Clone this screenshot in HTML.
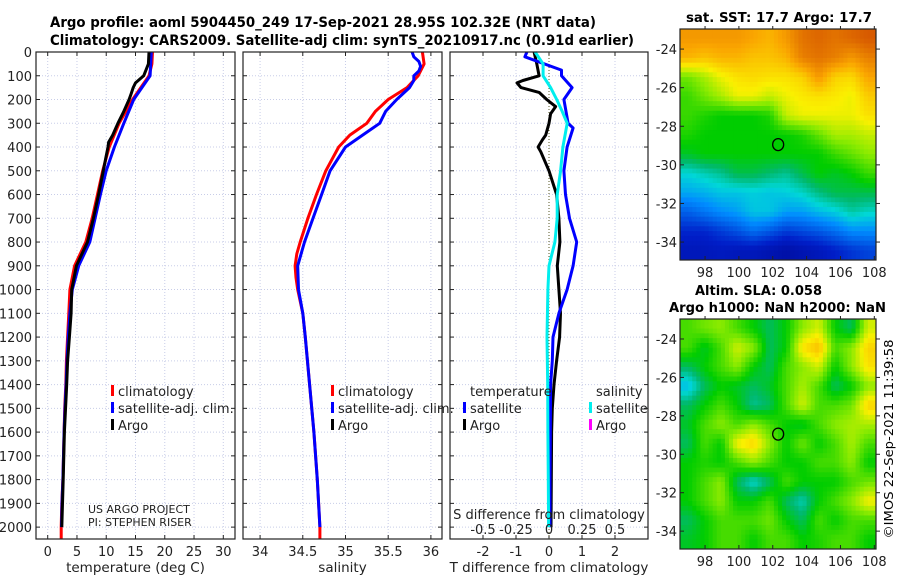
<!DOCTYPE html>
<html><head><meta charset="utf-8">
<style>
html,body{margin:0;padding:0;background:#fff;}
svg{display:block;font-family:"DejaVu Sans","Liberation Sans",sans-serif;}
</style></head>
<body>
<svg id="chart" width="900" height="580" viewBox="0 0 900 580" xmlns="http://www.w3.org/2000/svg">
<text x="50" y="27" font-size="14" font-weight="bold" textLength="546" lengthAdjust="spacingAndGlyphs">Argo profile: aoml 5904450_249 17-Sep-2021 28.95S 102.32E (NRT data)</text>
<text x="50" y="45" font-size="14" font-weight="bold" textLength="584" lengthAdjust="spacingAndGlyphs">Climatology: CARS2009. Satellite-adj clim: synTS_20210917.nc (0.91d earlier)</text>
<text x="686" y="22" font-size="13" font-weight="bold" textLength="186" lengthAdjust="spacingAndGlyphs">sat. SST: 17.7 Argo: 17.7</text>
<text x="695" y="295" font-size="13" font-weight="bold" textLength="127" lengthAdjust="spacingAndGlyphs">Altim. SLA: 0.058</text>
<text x="669" y="312" font-size="13" font-weight="bold" textLength="217" lengthAdjust="spacingAndGlyphs">Argo h1000: NaN h2000: NaN</text>
<text transform="translate(893,439) rotate(-90)" text-anchor="middle" font-size="12.5" textLength="199" lengthAdjust="spacingAndGlyphs">©IMOS 22-Sep-2021 11:39:58</text>
</svg>
<script>
// ---- data ----
const depthTicks=[0,100,200,300,400,500,600,700,800,900,1000,1100,1200,1300,1400,1500,1600,1700,1800,1900,2000];
const tempTicks=[0,5,10,15,20,25,30];
const salTicks=[34,34.5,35,35.5,36];
const salTickLabels=['34','34.5','35','35.5','36'];
const tdiffTicks=[-2,-1,0,1,2];
const sdiffTicks=[-0.5,-0.25,0,0.25,0.5];
const sdiffTickLabels=['-0.5','-0.25','0','0.25','0.5'];

const climTDepth=[0,50,100,150,200,300,400,500,600,700,800,900,1000,1100,1200,1300,1400,1500,1600,1700,1800,1900,2000,2050];
const climTemp=[17.9,17.8,17.3,15.9,14.5,12.2,10.5,9.4,8.5,7.6,6.5,4.6,3.8,3.6,3.4,3.2,3.1,2.9,2.8,2.7,2.6,2.4,2.3,2.3];
const satTDepth=[0,50,100,150,200,300,400,500,600,700,800,900,1000,1100,1200,1300,1400,1500,1600,1700,1800,1900,2000];
const satTemp=[17.7,17.6,17.5,16.1,14.7,13.0,11.4,10.0,9.0,8.1,7.2,5.3,4.2,3.8,3.5,3.3,3.15,2.95,2.8,2.7,2.6,2.45,2.35];
const argoTDepth=[0,50,100,130,150,180,200,250,300,350,380,400,450,500,600,700,800,900,1000,1100,1200,1300,1400,1600,1800,2000];
const argoTemp=[17.3,17.2,16.4,15.0,14.6,14.2,13.9,13.0,12.0,11.1,10.4,10.3,9.9,9.5,8.7,7.8,6.8,4.9,4.1,4.0,3.7,3.4,3.25,2.85,2.65,2.4];

const climSDepth=[0,50,100,150,200,250,300,350,400,500,600,700,800,850,900,950,1000,1100,1200,1400,1600,1800,2000,2050];
const climSal=[35.9,35.92,35.85,35.72,35.5,35.35,35.25,35.05,34.92,34.77,34.66,34.56,34.47,34.43,34.41,34.42,34.44,34.5,34.53,34.58,34.63,34.67,34.7,34.7];
const satSDepth=[0,20,40,60,80,100,120,150,200,250,300,350,400,500,600,700,800,900,1000,1100,1200,1400,1600,1800,2000];
const satSal=[35.78,35.8,35.86,35.88,35.86,35.8,35.8,35.75,35.6,35.47,35.4,35.2,35.0,34.82,34.72,34.62,34.52,34.44,34.45,34.5,34.53,34.58,34.63,34.67,34.7];

const tDiffSatDepth=[0,20,76,100,150,200,300,320,400,500,600,700,800,900,1000,1100,1200,1300,1400,1600,1800,2000];
const tDiffSat=[-0.67,-0.73,0.38,0.38,0.7,0.45,0.58,0.73,0.55,0.45,0.5,0.62,0.84,0.73,0.55,0.3,0.12,0.1,0.05,0.04,0.03,0.03];
const tDiffArgoDepth=[0,50,100,120,130,150,170,200,230,260,300,350,370,400,420,500,600,700,800,900,1000,1100,1200,1300,1400,1500,1600,1800,2000];
const tDiffArgo=[-0.45,-0.37,-0.3,-0.79,-0.97,-0.85,-0.3,-0.07,0.2,0.05,0.0,-0.1,-0.2,-0.33,-0.25,0.0,0.23,0.3,0.33,0.25,0.3,0.35,0.32,0.23,0.15,0.1,0.08,0.07,0.06];
const sDiffSatDepth=[0,50,100,150,200,250,300,400,500,600,700,800,900,1000,1200,1400,1600,1800,2000];
const sDiffSat=[-0.105,-0.045,-0.045,0.012,0.058,0.1,0.138,0.105,0.088,0.062,0.062,0.045,0.0,-0.008,-0.015,-0.01,-0.008,-0.005,-0.003];

const lonTicks=[98,100,102,104,106,108];
const latTicks=[-24,-26,-28,-30,-32,-34];
const floatLon=102.32, floatLat=-28.95;
const sstGrid=[
[0.80,0.80,0.80,0.80,0.78,0.76,0.80,0.86,0.88,0.86,0.88,0.90],
[0.76,0.74,0.76,0.76,0.74,0.74,0.76,0.84,0.86,0.84,0.80,0.84],
[0.58,0.62,0.67,0.70,0.71,0.70,0.70,0.72,0.80,0.72,0.71,0.78],
[0.54,0.58,0.62,0.67,0.67,0.64,0.67,0.69,0.70,0.69,0.67,0.73],
[0.54,0.52,0.50,0.50,0.50,0.52,0.64,0.67,0.67,0.67,0.67,0.70],
[0.52,0.50,0.50,0.50,0.50,0.50,0.50,0.52,0.57,0.62,0.62,0.64],
[0.48,0.50,0.50,0.50,0.50,0.50,0.50,0.50,0.50,0.54,0.57,0.60],
[0.38,0.40,0.42,0.46,0.46,0.44,0.42,0.46,0.50,0.48,0.50,0.54],
[0.33,0.34,0.36,0.36,0.37,0.36,0.37,0.39,0.43,0.46,0.46,0.46],
[0.24,0.27,0.30,0.32,0.36,0.36,0.32,0.32,0.35,0.37,0.41,0.39],
[0.16,0.16,0.19,0.22,0.26,0.23,0.19,0.21,0.23,0.26,0.30,0.30],
[0.12,0.12,0.13,0.12,0.12,0.10,0.08,0.10,0.12,0.15,0.18,0.20]];
const slaGrid=[
[0.55,0.58,0.60,0.55,0.50,0.45,0.50,0.60,0.65,0.50,0.45,0.65],
[0.55,0.48,0.55,0.65,0.60,0.45,0.50,0.70,0.75,0.55,0.60,0.72],
[0.45,0.50,0.55,0.60,0.50,0.45,0.55,0.60,0.65,0.50,0.60,0.70],
[0.35,0.45,0.50,0.48,0.45,0.48,0.55,0.62,0.55,0.45,0.50,0.60],
[0.45,0.50,0.55,0.50,0.42,0.45,0.55,0.65,0.55,0.55,0.58,0.72],
[0.48,0.55,0.60,0.55,0.60,0.55,0.50,0.48,0.55,0.60,0.62,0.62],
[0.45,0.55,0.50,0.68,0.72,0.60,0.50,0.58,0.50,0.55,0.62,0.55],
[0.50,0.52,0.50,0.55,0.60,0.55,0.50,0.50,0.55,0.55,0.60,0.50],
[0.50,0.55,0.60,0.45,0.38,0.45,0.55,0.50,0.50,0.50,0.55,0.58],
[0.50,0.55,0.60,0.50,0.50,0.55,0.45,0.40,0.50,0.55,0.60,0.68],
[0.45,0.50,0.55,0.55,0.55,0.58,0.50,0.45,0.55,0.50,0.55,0.55],
[0.48,0.50,0.55,0.55,0.50,0.55,0.55,0.50,0.52,0.55,0.55,0.50]];

// ---- drawing ----
const NS='http://www.w3.org/2000/svg';
const svg=document.getElementById('chart');
function mk(tag,attrs,parent){const e=document.createElementNS(NS,tag);for(const k in attrs)e.setAttribute(k,attrs[k]);(parent||svg).appendChild(e);return e;}
const TOP=52,BOT=539,DMAX=2050;
const yD=d=>TOP+d*(BOT-TOP)/DMAX;
function lin(d0,d1,r0,r1){return v=>r0+(v-d0)*(r1-r0)/(d1-d0);}
const panels=[
 {name:'temperature-panel',x0:36,x1:235,f:lin(-2,32,36,235),ticks:tempTicks,labels:tempTicks.map(String),xlabel:'temperature (deg C)',ylabels:true},
 {name:'salinity-panel',x0:243,x1:442,f:lin(33.8,36.13,243,442),ticks:salTicks,labels:salTickLabels,xlabel:'salinity'},
 {name:'difference-panel',x0:450,x1:648,f:lin(-3,3,450,648),ticks:tdiffTicks,labels:tdiffTicks.map(String),xlabel:'T difference from climatology'}
];
panels.forEach(p=>{
  const g=mk('g',{});
  
  
  depthTicks.forEach(d=>{
    const l=mk('line',{x1:p.x0,x2:p.x1,y1:yD(d),y2:yD(d),stroke:'#c8cde8','stroke-width':1,'stroke-dasharray':'1,2'},g);
    
    mk('line',{x1:p.x0,x2:p.x0+4,y1:yD(d),y2:yD(d),stroke:'#222'},g);
    mk('line',{x1:p.x1,x2:p.x1-4,y1:yD(d),y2:yD(d),stroke:'#222'},g);
    if(p.ylabels){const t=mk('text',{x:p.x0-4,y:yD(d)+5,'text-anchor':'end','font-size':13,fill:'#222'},g);t.textContent=d;
      }
  });
  p.ticks.forEach((v,i)=>{
    const x=p.f(v);
    const l=mk('line',{x1:x,x2:x,y1:TOP,y2:BOT,stroke:'#c8cde8','stroke-width':1,'stroke-dasharray':'1,2'},g);
    
    mk('line',{x1:x,x2:x,y1:BOT,y2:BOT-4,stroke:'#222'},g);
    mk('line',{x1:x,x2:x,y1:TOP,y2:TOP+4,stroke:'#222'},g);
    const t=mk('text',{x:x,y:556,'text-anchor':'middle','font-size':13,fill:'#222'},g);t.textContent=p.labels[i];
    
  });
  const xl=mk('text',{x:(p.x0+p.x1)/2,y:572,'text-anchor':'middle','font-size':13.5,fill:'#222'},g);xl.textContent=p.xlabel;
  
  p.g=g;
});
function series(pi,xs,ds,color,name,w,scale){
  const p=panels[pi];const s=scale||1;
  const pts=xs.map((v,i)=>p.f(v*s).toFixed(1)+','+yD(ds[i]).toFixed(1)).join(' ');
  const e=mk('polyline',{points:pts,fill:'none',stroke:color,'stroke-width':w||3,'stroke-linejoin':'round'},p.g);
  
  
}
{const x=panels[2].f(0);const z=mk('line',{x1:x,x2:x,y1:TOP,y2:BOT,stroke:'#555522','stroke-width':1,'stroke-dasharray':'1,2'},panels[2].g);
 }
series(0,climTemp,climTDepth,'#ff0000','temp-climatology-line');
series(0,satTemp,satTDepth,'#0000ff','temp-satellite-line');
series(0,argoTemp,argoTDepth,'#000000','temp-argo-line');
series(1,climSal,climSDepth,'#ff0000','sal-climatology-line');
series(1,satSal,satSDepth,'#0000ff','sal-satellite-line');
series(2,tDiffArgo,tDiffArgoDepth,'#000000','tdiff-argo-line');
series(2,tDiffSat,tDiffSatDepth,'#0000ff','tdiff-satellite-line');
series(2,sDiffSat,sDiffSatDepth,'#00eeee','sdiff-satellite-line',3,4);
panels.forEach(p=>{const b=mk('rect',{x:p.x0,y:TOP,width:p.x1-p.x0,height:BOT-TOP,fill:'none',stroke:'#222','stroke-width':1.2},p.g);
  });
{const t=mk('text',{x:549,y:519,'text-anchor':'middle','font-size':13,fill:'#222'});t.textContent='S difference from climatology';
 
 sdiffTicks.forEach((v,i)=>{const x=panels[2].f(v*4);const l=mk('text',{x:x,y:534,'text-anchor':'middle','font-size':13,fill:'#222'});l.textContent=sdiffTickLabels[i];
  });}
function legend(x,y,color,label,name){
  const g=mk('g',{});
  mk('rect',{x:x-7,y:y-11,width:3,height:11,fill:color},g);
  const t=mk('text',{x:x,y:y,'font-size':13,fill:'#222'},g);t.textContent=label;
}
legend(118,396,'#ff0000','climatology','legend-temp-climatology');
legend(118,413,'#0000ff','satellite-adj. clim.','legend-temp-satellite');
legend(118,430,'#000000','Argo','legend-temp-argo');
legend(338,396,'#ff0000','climatology','legend-sal-climatology');
legend(338,413,'#0000ff','satellite-adj. clim.','legend-sal-satellite');
legend(338,430,'#000000','Argo','legend-sal-argo');
{const t=mk('text',{x:470,y:396,'font-size':13,fill:'#222'});t.textContent='temperature';
 const s=mk('text',{x:596,y:396,'font-size':13,fill:'#222'});s.textContent='salinity';}
legend(470,413,'#0000ff','satellite','legend-tdiff-satellite');
legend(470,430,'#000000','Argo','legend-tdiff-argo');
legend(596,413,'#00eeee','satellite','legend-sdiff-satellite');
legend(596,430,'#ff00ff','Argo','legend-sdiff-argo');
{const a=mk('text',{x:88,y:513,'font-size':11,fill:'#222'});a.textContent='US ARGO PROJECT';
 const b=mk('text',{x:88,y:526,'font-size':11,fill:'#222'});b.textContent='PI: STEPHEN RISER';}
// maps
const cmapStops=[[0,[0,0,130]],[0.15,[0,30,200]],[0.3,[0,140,255]],[0.38,[0,215,215]],[0.44,[0,185,110]],[0.5,[0,205,0]],[0.6,[140,235,0]],[0.68,[250,240,0]],[0.78,[250,165,0]],[0.9,[215,90,0]],[1,[170,40,0]]];
function cmap(v){v=Math.max(0,Math.min(1,v));
  for(let i=1;i<cmapStops.length;i++){const [a,ca]=cmapStops[i-1],[b,cb]=cmapStops[i];
    if(v<=b){const t=(v-a)/(b-a);return 'rgb('+ca.map((c,k)=>Math.round(c+(cb[k]-c)*t)).join(',')+')';}}
  return 'rgb(170,40,0)';}
function sample(grid,fr,fc){const R=grid.length,C=grid[0].length;
  fr=Math.max(0,Math.min(R-1,fr));fc=Math.max(0,Math.min(C-1,fc));
  const r0=Math.floor(fr),c0=Math.floor(fc),r1=Math.min(R-1,r0+1),c1=Math.min(C-1,c0+1),tr=fr-r0,tc=fc-c0;
  return grid[r0][c0]*(1-tr)*(1-tc)+grid[r0][c1]*(1-tr)*tc+grid[r1][c0]*tr*(1-tc)+grid[r1][c1]*tr*tc;}
function map(name,grid,y0,y1,sub){
  const x0=680,x1=876,lon0=96.52,lon1=108.1,lat0=-22.96,lat1=-34.93;
  const fx=lin(lon0,lon1,x0,x1),fy=lin(lat0,lat1,y0,y1);
  const g=mk('g',{});
  const rows=grid.length,cols=grid[0].length;
  const NR=rows*sub,NC=cols*sub;
  const cw=(x1-x0)/NC,ch=(y1-y0)/NR;
  for(let r=0;r<NR;r++)for(let c=0;c<NC;c++){
    const v=sample(grid,(r+0.5)/sub-0.5,(c+0.5)/sub-0.5);
    const cell=mk('rect',{x:(x0+c*cw).toFixed(2),y:(y0+r*ch).toFixed(2),width:(cw+0.5).toFixed(2),height:(ch+0.5).toFixed(2),fill:cmap(v)},g);
    
    
  }
  mk('rect',{x:x0,y:y0,width:x1-x0,height:y1-y0,fill:'none',stroke:'#222','stroke-width':1.2},g);
  latTicks.forEach(l=>{const y=fy(l);mk('line',{x1:x0,x2:x0+4,y1:y,y2:y,stroke:'#222'},g);mk('line',{x1:x1,x2:x1+4,y1:y,y2:y,stroke:'#222'},g);
    const t=mk('text',{x:x0-3,y:y+5,'text-anchor':'end','font-size':13,fill:'#222'},g);t.textContent=l;
    });
  lonTicks.forEach(l=>{const x=fx(l);mk('line',{x1:x,x2:x,y1:y1,y2:y1-4,stroke:'#222'},g);mk('line',{x1:x,x2:x,y1:y0,y2:y0-3,stroke:'#222'},g);
    const t=mk('text',{x:x,y:y1+17,'text-anchor':'middle','font-size':13,fill:'#222'},g);t.textContent=l;
    });
  const m=mk('ellipse',{cx:fx(floatLon),cy:fy(floatLat),rx:5.5,ry:6,fill:'none',stroke:'#000','stroke-width':1.3},g);
  
}
map('sst-map',sstGrid,29,260,4);
map('sla-map',slaGrid,319,549,4);
</script>
</body></html>
